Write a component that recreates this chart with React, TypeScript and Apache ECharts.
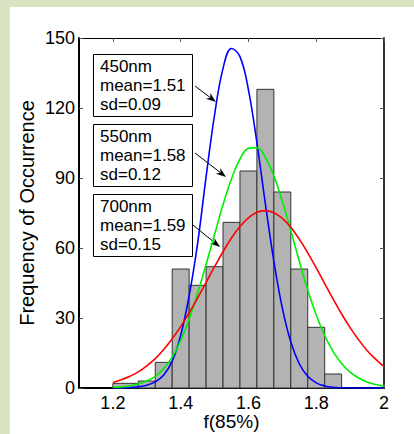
import React, { useEffect, useRef } from "react";
import * as echarts from "echarts";

// Histogram bins (f(85%)) and counts
const binStart = [1.2, 1.275, 1.325, 1.375, 1.425, 1.475, 1.525, 1.575, 1.625, 1.675, 1.725, 1.775, 1.825];
const binEnd = [1.275, 1.325, 1.375, 1.425, 1.475, 1.525, 1.575, 1.625, 1.675, 1.725, 1.775, 1.825, 1.875];
const counts = [2, 3, 11, 51, 44, 52, 71, 93, 128, 84, 51, 26, 6];

// Fitted curves
const curveX = [
  1.2, 1.225, 1.25, 1.275, 1.3, 1.325, 1.35, 1.375, 1.4, 1.425, 1.45, 1.475, 1.5, 1.525, 1.55, 1.575, 1.6,
  1.625, 1.65, 1.675, 1.7, 1.725, 1.75, 1.775, 1.8, 1.825, 1.85, 1.875, 1.9, 1.925, 1.95, 1.975, 2.0,
];
const blue450 = [
  0.0, 0.1, 0.2, 0.5, 1.2, 2.6, 5.6, 11.5, 22.5, 39.5, 62, 90.5, 117, 137, 145.5, 142, 127.8,
  105, 78.9, 54.3, 34.2, 19.7, 10.4, 5.0, 2.2, 0.9, 0.3, 0.1, 0, 0, 0, 0, 0,
];
const green550 = [
  0.3, 0.5, 0.9, 1.7, 3.0, 5.0, 8.3, 13.2, 20.3, 29.5, 40.6, 52.9, 65.8, 78.5, 89.7, 98.1, 102.7,
  103.0, 98.8, 90.9, 80.0, 67.4, 54.4, 42.0, 31.3, 22.5, 15.6, 10.5, 6.8, 4.3, 2.6, 1.5, 0.8,
];
const red700 = [
  2.4, 3.5, 5.0, 6.9, 9.5, 12.6, 16.5, 21.1, 26.3, 32.2, 38.6, 45.3, 52.0, 58.4, 64.3, 69.2, 72.9,
  75.3, 76.0, 75.1, 72.7, 68.9, 63.8, 57.9, 51.5, 44.7, 38.1, 31.7, 25.9, 20.7, 16.1, 12.4, 9.2,
];

const xTicks = [1.2, 1.4, 1.6, 1.8, 2];
const labels450 = ["450nm", "mean=1.51", "sd=0.09"];
const labels550 = ["550nm", "mean=1.58", "sd=0.12"];
const labels700 = ["700nm", "mean=1.59", "sd=0.15"];

const FONT = "'Liberation Sans', Arial, Helvetica, sans-serif";

function arrow(x1: number, y1: number, x2: number, y2: number) {
  const dx = x2 - x1;
  const dy = y2 - y1;
  const len = Math.sqrt(dx * dx + dy * dy);
  const ux = dx / len;
  const uy = dy / len;
  const hl = 10;
  const hw = 3.6;
  const bx = x2 - ux * hl;
  const by = y2 - uy * hl;
  const nx = -uy;
  const ny = ux;
  const mx = x2 - ux * hl * 0.7;
  const my = y2 - uy * hl * 0.7;
  return [
    {
      type: "line",
      shape: { x1, y1, x2: mx, y2: my },
      style: { stroke: "#000", lineWidth: 1 },
    },
    {
      type: "polygon",
      shape: {
        points: [
          [x2, y2],
          [bx + nx * hw, by + ny * hw],
          [mx, my],
          [bx - nx * hw, by - ny * hw],
        ],
      },
      style: { fill: "#000" },
    },
  ];
}

function box(top: number, lines: string[]) {
  return [
    {
      type: "rect",
      shape: { x: 93.5, y: top + 0.5, width: 99, height: 62 },
      style: { fill: "#fff", stroke: "#000", lineWidth: 1 },
    },
    {
      type: "text",
      x: 100,
      y: top + 3,
      style: {
        text: lines.join("\n"),
        fontSize: 17,
        fontFamily: FONT,
        fill: "#000",
        lineHeight: 19,
        verticalAlign: "top",
        align: "left",
      },
    },
  ];
}

export default function App() {
  const ref = useRef<HTMLDivElement>(null);

  useEffect(() => {
    document.body.style.margin = "0";
    if (!ref.current) return;
    const chart = echarts.init(ref.current, undefined, { renderer: "svg" });

    const histData = binStart.map((s, i) => [s, binEnd[i], counts[i]]);
    const mk = (ys: number[]) => curveX.map((x, i) => [x, ys[i]]);

    const option: any = {
      animation: false,
      backgroundColor: "#fff",
      grid: { left: 79, right: 30, top: 38, bottom: 46, containLabel: false, outerBoundsMode: "none" },
      xAxis: [
        {
          type: "value",
          min: 1.1,
          max: 2.0,
          position: "bottom",
          name: "f(85%)",
          nameLocation: "middle",
          nameGap: 24,
          nameMoveOverlap: false,
          nameTextStyle: { fontSize: 19, fontFamily: FONT, color: "#000", verticalAlign: "top", lineHeight: 19 },
          axisLine: { show: true, onZero: false, lineStyle: { color: "#000", width: 2 } },
          axisTick: { show: true, inside: true, length: 4, customValues: xTicks, lineStyle: { color: "#555" } },
          axisLabel: {
            show: true,
            customValues: xTicks,
            margin: 7,
            fontSize: 18,
            lineHeight: 16,
            fontFamily: FONT,
            color: "#000",
          },
          splitLine: { show: false },
        },
        {
          type: "value",
          min: 1.1,
          max: 2.0,
          position: "top",
          axisLine: { show: true, onZero: false, lineStyle: { color: "#000", width: 1 } },
          axisTick: { show: true, inside: true, length: 4, customValues: xTicks, lineStyle: { color: "#555" } },
          axisLabel: { show: false },
          splitLine: { show: false },
        },
      ],
      yAxis: [
        {
          type: "value",
          min: 0,
          max: 150,
          interval: 30,
          position: "left",
          name: "Frequency of Occurrence",
          nameLocation: "middle",
          nameGap: 42,
          nameMoveOverlap: false,
          nameTextStyle: { fontSize: 20, fontFamily: FONT, color: "#000" },
          axisLine: { show: true, onZero: false, lineStyle: { color: "#000", width: 2 } },
          axisTick: { show: true, inside: true, length: 4, lineStyle: { color: "#555" } },
          axisLabel: { show: true, margin: 4, fontSize: 18, fontFamily: FONT, color: "#000" },
          splitLine: { show: false },
        },
        {
          type: "value",
          min: 0,
          max: 150,
          interval: 30,
          position: "right",
          axisLine: { show: true, onZero: false, lineStyle: { color: "#333", width: 2 } },
          axisTick: { show: true, inside: true, length: 4, lineStyle: { color: "#555" } },
          axisLabel: { show: false },
          splitLine: { show: false },
        },
      ],
      series: [
        {
          type: "custom",
          xAxisIndex: 0,
          yAxisIndex: 0,
          data: histData,
          encode: { x: [0, 1], y: 2 },
          renderItem: (params: any, api: any) => {
            const p0 = api.coord([api.value(0), api.value(2)]);
            const p1 = api.coord([api.value(1), 0]);
            return {
              type: "rect",
              shape: { x: p0[0], y: p0[1], width: p1[0] - p0[0], height: p1[1] - p0[1] },
              style: { fill: "#b3b3b3", stroke: "#333", lineWidth: 1 },
            };
          },
          z: 2,
        },
        {
          type: "line",
          data: mk(blue450),
          showSymbol: false,
          smooth: 0.4,
          lineStyle: { color: "#0000ff", width: 1.6 },
          z: 3,
        },
        {
          type: "line",
          data: mk(green550),
          showSymbol: false,
          smooth: 0.4,
          lineStyle: { color: "#00ee00", width: 1.6 },
          z: 4,
        },
        {
          type: "line",
          data: mk(red700),
          showSymbol: false,
          smooth: 0.4,
          lineStyle: { color: "#ff0000", width: 1.6 },
          z: 5,
        },
      ],
      graphic: [
        { type: "rect", shape: { x: 0, y: 0, width: 414, height: 7 }, style: { fill: "#dae4c2" }, silent: true },
        { type: "rect", shape: { x: 0, y: 0, width: 10, height: 434 }, style: { fill: "#dae4c2" }, silent: true },
        ...box(54, labels450),
        ...box(124, labels550),
        ...box(194, labels700),
        ...arrow(195, 86, 216, 102),
        ...arrow(195, 153, 226, 177),
        ...arrow(193, 225, 220, 247),
      ],
    };

    chart.setOption(option);
    return () => chart.dispose();
  }, []);

  return (
    <div
      ref={ref}
      style={{ position: "absolute", left: 0, top: 0, width: 414, height: 434 }}
    />
  );
}
